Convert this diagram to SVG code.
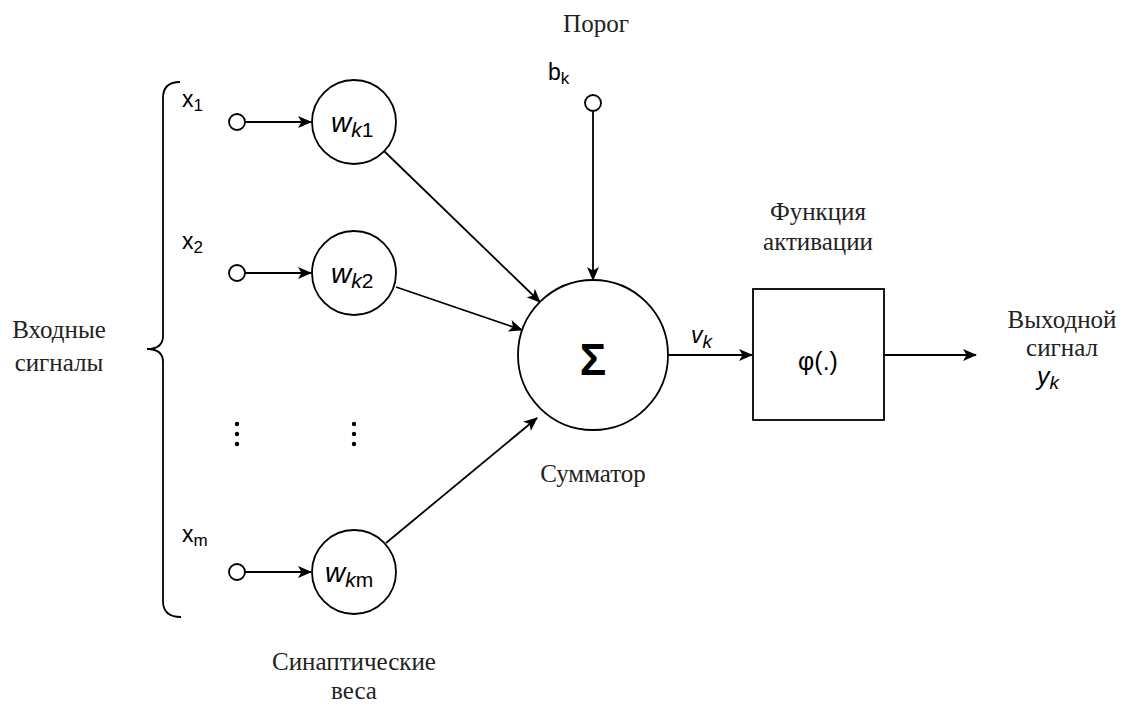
<svg xmlns="http://www.w3.org/2000/svg" width="1121" height="704" viewBox="0 0 1121 704">
<style>
.ln{fill:none;stroke:#000;stroke-width:1.8}
.nd{fill:#fff;stroke:#000;stroke-width:1.8}
.ru{font-family:"Liberation Serif","DejaVu Serif",serif;font-size:25px;fill:#222;text-anchor:middle}
.sn{font-family:"Liberation Sans",Arial,sans-serif;fill:#000}
.it{font-style:italic}
</style>
<defs>
<marker id="ar" viewBox="0 0 14 12" refX="13" refY="6" markerWidth="14" markerHeight="12" markerUnits="userSpaceOnUse" orient="auto">
<path d="M0,0 L14,6 L0,12 L3.5,6 Z" fill="#000"/>
</marker>
</defs>
<rect width="1121" height="704" fill="#fff"/>
<g id="connectors">
<line class="ln" x1="245" y1="122" x2="311" y2="122" marker-end="url(#ar)"/>
<line class="ln" x1="245" y1="273" x2="311" y2="273" marker-end="url(#ar)"/>
<line class="ln" x1="245" y1="572" x2="311" y2="572" marker-end="url(#ar)"/>
<line class="ln" x1="384" y1="151" x2="540" y2="302" marker-end="url(#ar)"/>
<line class="ln" x1="396" y1="287" x2="522" y2="330" marker-end="url(#ar)"/>
<line class="ln" x1="386" y1="543" x2="537" y2="418" marker-end="url(#ar)"/>
<line class="ln" x1="593" y1="111" x2="593" y2="280" marker-end="url(#ar)"/>
<line class="ln" x1="668" y1="355" x2="752" y2="355" marker-end="url(#ar)"/>
<line class="ln" x1="884" y1="355" x2="976" y2="355" marker-end="url(#ar)"/>
</g>
<g id="brace">
<path class="ln" d="M180,82 Q163,82 163,98 L163,336 Q163,349 147,349 Q163,349 163,362 L163,601 Q163,617 181,617"/>
</g>
<g id="inputs-label"><text class="ru" x="59" y="338">Входные</text><text class="ru" x="59" y="371">сигналы</text></g>
<g id="x1"><circle class="nd" cx="237" cy="122" r="8"/><text class="sn" x="182" y="107" font-size="23">x<tspan font-size="17" dy="4">1</tspan></text></g>
<g id="x2"><circle class="nd" cx="237" cy="273" r="8"/><text class="sn" x="182" y="249" font-size="23">x<tspan font-size="17" dy="4">2</tspan></text></g>
<g id="xm"><circle class="nd" cx="237" cy="572" r="8"/><text class="sn" x="182" y="542" font-size="23">x<tspan font-size="17" dy="4">m</tspan></text></g>
<g id="wk1"><circle class="nd" cx="354" cy="122" r="42"/><text class="sn" x="331" y="132" font-size="28"><tspan class="it">w</tspan><tspan dy="5" font-size="21"><tspan class="it">k</tspan>1</tspan></text></g>
<g id="wk2"><circle class="nd" cx="354" cy="273" r="42"/><text class="sn" x="331" y="283" font-size="28"><tspan class="it">w</tspan><tspan dy="5" font-size="21"><tspan class="it">k</tspan>2</tspan></text></g>
<g id="wkm"><circle class="nd" cx="354" cy="572" r="42"/><text class="sn" x="325" y="582" font-size="28"><tspan class="it">w</tspan><tspan dy="5" font-size="21"><tspan class="it">k</tspan>m</tspan></text></g>
<g id="dots">
<circle cx="237" cy="424" r="2.2"/><circle cx="237" cy="434" r="2.2"/><circle cx="237" cy="444" r="2.2"/>
<circle cx="354" cy="424" r="2.2"/><circle cx="354" cy="434" r="2.2"/><circle cx="354" cy="444" r="2.2"/>
</g>
<g id="weights-label"><text class="ru" x="354" y="670">Синаптические</text><text class="ru" x="354" y="699">веса</text></g>
<g id="bias"><text class="ru" x="596" y="32">Порог</text><circle class="nd" cx="593" cy="103" r="8"/><text class="sn" x="548" y="80" font-size="23">b<tspan font-size="17" dy="4">k</tspan></text></g>
<g id="sum"><circle class="nd" cx="593" cy="355" r="75"/><text class="sn" x="593" y="375" font-size="44" font-weight="bold" text-anchor="middle">Σ</text><text class="ru" x="593" y="482">Сумматор</text></g>
<g id="vk"><text class="sn it" x="691" y="343" font-size="23">v<tspan font-size="19" dy="5">k</tspan></text></g>
<g id="activation"><text class="ru" x="818" y="220">Функция</text><text class="ru" x="818" y="250">активации</text><rect class="nd" x="753" y="289" width="131" height="131"/><text class="sn" x="818" y="370" font-size="25" text-anchor="middle">φ(.)</text></g>
<g id="output"><text class="ru" x="1062" y="328">Выходной</text><text class="ru" x="1062" y="356">сигнал</text><text class="sn it" x="1037" y="385" font-size="25">y<tspan font-size="19" dy="4">k</tspan></text></g>
</svg>
